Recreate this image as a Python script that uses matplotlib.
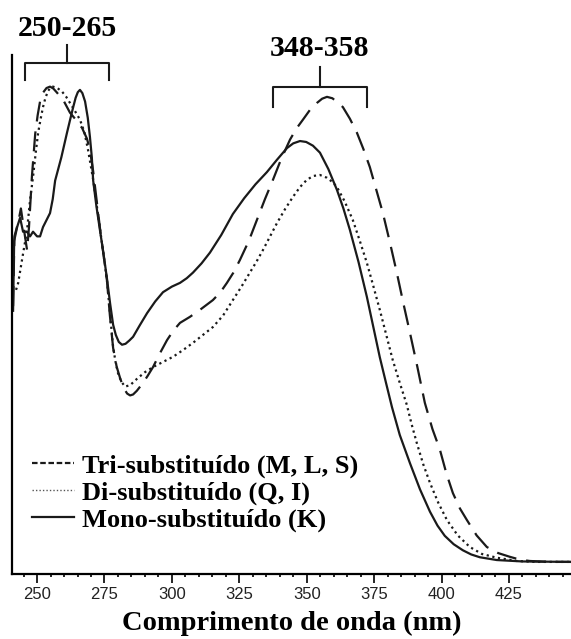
import numpy as np
import matplotlib.pyplot as plt
from matplotlib.lines import Line2D
from matplotlib.ticker import MultipleLocator

# espectros UV (absorbância normalizada)
wl_tri = [241.1, 241.6, 243.0, 244.0, 245.0, 246.3, 247.0, 248.1, 249.3, 250.2,
          251.1, 252.2, 253.5, 254.8, 256.0, 257.4, 260.0, 262.2, 264.5, 266.7,
          268.5, 269.6, 270.8, 273.4, 275.9, 277.0, 278.2, 279.5, 280.8, 282.0,
          283.4, 284.5, 285.6, 287.0, 289.3, 291.0, 293.0, 295.5, 298.2, 300.5,
          303.0, 306.7, 310.4, 315.2, 318.0, 320.4, 322.8, 325.2, 328.5, 331.5,
          334.5, 337.5, 340.5, 343.8, 346.2, 348.6, 351.2, 353.8, 355.7, 357.5,
          359.5, 361.5, 363.4, 366.0, 368.6, 371.0, 373.4, 375.8, 378.2, 380.8,
          383.4, 385.8, 388.3, 391.0, 393.8, 396.6, 399.4, 401.8, 404.2, 406.8,
          409.4, 413.0, 416.8, 421.0, 425.3, 429.0, 432.7, 440.0, 447.9]
abs_tri = [0.55, 0.70, 0.73, 0.76, 0.72, 0.67, 0.72, 0.83, 0.92, 0.96,
           0.99, 1.009, 1.019, 1.022, 1.018, 1.009, 0.99, 0.966, 0.95, 0.933,
           0.91, 0.886, 0.84, 0.714, 0.606, 0.53, 0.46, 0.42, 0.395, 0.375,
           0.362, 0.358, 0.360, 0.368, 0.385, 0.40, 0.419, 0.448, 0.477, 0.497,
           0.514, 0.527, 0.542, 0.563, 0.58, 0.600, 0.622, 0.649, 0.69, 0.735,
           0.78, 0.822, 0.866, 0.908, 0.932, 0.951, 0.972, 0.987, 0.996, 1.0,
           0.997, 0.988, 0.978, 0.953, 0.923, 0.888, 0.849, 0.80, 0.751, 0.688,
           0.622, 0.557, 0.492, 0.42, 0.342, 0.286, 0.241, 0.19, 0.148, 0.115,
           0.090, 0.057, 0.032, 0.019, 0.011, 0.005, 0.002, 0.0, 0.0]

wl_di = [242.2, 243.0, 244.4, 246.3, 247.4, 248.5, 249.5, 250.4, 251.3, 252.2,
         253.1, 254.1, 255.0, 255.9, 257.5, 259.3, 260.8, 262.2, 264.0, 265.9,
         267.5, 268.9, 270.8, 273.4, 275.9, 277.1, 278.2, 279.1, 280.0, 281.2,
         282.6, 284.5, 287.1, 290.0, 293.0, 296.7, 300.4, 304.0, 307.8, 311.5,
         315.2, 319.0, 322.6, 325.8, 328.9, 331.4, 333.8, 336.4, 339.0, 342.0,
         344.9, 347.5, 350.1, 352.5, 354.9, 357.5, 359.5, 361.2, 364.0, 367.1,
         369.7, 372.3, 374.7, 377.1, 379.5, 381.9, 384.5, 387.1, 388.9, 390.8,
         393.2, 395.7, 398.8, 402.0, 406.0, 410.5, 415.0, 420.5, 427.9, 435.0,
         447.9]
abs_di = [0.585, 0.600, 0.649, 0.714, 0.778, 0.828, 0.88, 0.923, 0.952, 0.978,
          0.998, 1.013, 1.02, 1.022, 1.019, 1.011, 1.0, 0.987, 0.97, 0.951,
          0.925, 0.886, 0.822, 0.714, 0.606, 0.53, 0.462, 0.43, 0.406, 0.388,
          0.377, 0.38, 0.394, 0.408, 0.419, 0.43, 0.441, 0.455, 0.471, 0.488,
          0.505, 0.53, 0.563, 0.592, 0.622, 0.646, 0.671, 0.70, 0.729, 0.759,
          0.785, 0.806, 0.822, 0.830, 0.832, 0.826, 0.817, 0.806, 0.776, 0.735,
          0.69, 0.643, 0.593, 0.542, 0.488, 0.434, 0.385, 0.338, 0.296, 0.256,
          0.21, 0.170, 0.127, 0.090, 0.057, 0.032, 0.017, 0.009, 0.002, 0.0,
          0.0]

wl_mono = [241.1, 241.5, 242.6, 243.7, 244.8, 246.3, 247.4, 248.5, 250.0, 251.1,
           252.2, 253.5, 254.8, 255.8, 256.7, 259.0, 261.1, 262.3, 263.4, 264.3,
           265.1, 265.9, 266.8, 267.8, 268.8, 269.6, 270.3, 270.8, 272.0, 273.4,
           274.7, 275.9, 277.1, 278.2, 279.2, 280.3, 281.5, 282.8, 284.2, 285.6,
           288.0, 290.8, 293.8, 296.7, 300.0, 303.0, 305.5, 307.8, 311.0, 314.1,
           318.3, 322.6, 326.8, 331.0, 335.2, 339.0, 342.7, 345.0, 347.5, 349.8,
           352.3, 354.9, 358.0, 361.2, 363.6, 366.0, 369.2, 372.3, 374.7, 377.1,
           379.4, 381.6, 384.5, 388.3, 392.0, 395.7, 398.5, 401.2, 404.5, 407.9,
           411.0, 414.2, 420.5, 430.0, 447.9]
abs_mono = [0.54, 0.69, 0.72, 0.74, 0.71, 0.71, 0.70, 0.71, 0.70, 0.70,
            0.72, 0.735, 0.75, 0.78, 0.82, 0.87, 0.923, 0.952, 0.978, 0.998,
            1.01, 1.015, 1.008, 0.99, 0.955, 0.914, 0.87, 0.82, 0.765, 0.71,
            0.66, 0.61, 0.555, 0.51, 0.488, 0.473, 0.467, 0.469, 0.476, 0.484,
            0.508, 0.535, 0.56, 0.58, 0.592, 0.60, 0.61, 0.622, 0.642, 0.665,
            0.703, 0.748, 0.782, 0.812, 0.838, 0.865, 0.89, 0.90, 0.905, 0.903,
            0.895, 0.88, 0.845, 0.80, 0.76, 0.714, 0.645, 0.57, 0.505, 0.44,
            0.385, 0.333, 0.273, 0.212, 0.156, 0.108, 0.078, 0.056, 0.038, 0.025,
            0.016, 0.01, 0.004, 0.001, 0.0]

labels = ['Tri-substituído (M, L, S)', 'Di-substituído (Q, I)', 'Mono-substituído (K)']
ranges = ['250-265', '348-358']
xticks = [250, 275, 300, 325, 350, 375, 400, 425]

serif = 'Liberation Serif'
ink = '#1a1a1a'

fig = plt.figure(figsize=(5.71, 6.39), dpi=100)
ax = fig.add_axes([12 / 571, 1 - 574 / 639, 1 - 12 / 571, (574 - 55) / 639])

ax.plot(wl_tri, abs_tri, color=ink, lw=1.6, ls=(0, (9, 4.5)))
ax.plot(wl_di, abs_di, color=ink, lw=1.6, ls=(0, (1, 1.6)))
ax.plot(wl_mono, abs_mono, color=ink, lw=1.6, ls='-')

ax.set_xlim(240.7, 448)
ax.set_ylim(-0.026, 1.09)

for s in ['top', 'right']:
    ax.spines[s].set_visible(False)
ax.spines['left'].set_linewidth(1.6)
ax.spines['bottom'].set_linewidth(1.6)
ax.set_yticks([])
ax.set_xticks(xticks)
ax.xaxis.set_minor_locator(MultipleLocator(5))
ax.tick_params(axis='x', which='major', length=6.5, width=1.2, direction='out',
               labelsize=12, labelcolor='#222222', pad=3)
ax.tick_params(axis='x', which='minor', length=2.5, width=1.2, direction='out')
for t in ax.get_xticklabels():
    t.set_fontfamily('Liberation Sans')

ax.set_xlabel('Comprimento de onda (nm)', fontfamily=serif, fontweight='bold',
              fontsize=20.5, labelpad=6)

# chaves com as faixas de máximo
def bracket(x0, x1, ylow, yh, ytop, text, ytext):
    xc = (x0 + x1) / 2
    ax.plot([x0, x0, x1, x1], [ylow, yh, yh, ylow], color=ink, lw=1.5,
            clip_on=False, solid_joinstyle='round')
    ax.plot([xc, xc], [yh, ytop], color=ink, lw=1.5, clip_on=False)
    ax.text(xc, ytext, text, ha='center', va='center', fontfamily=serif,
            fontweight='bold', fontsize=21.5, clip_on=False)

bracket(245.6, 276.7, 1.037, 1.073, 1.112, ranges[0], 1.147)
bracket(337.5, 372.3, 0.978, 1.022, 1.065, ranges[1], 1.105)

handles = [Line2D([], [], color=ink, lw=1.6, ls=(0, (2.5, 1.2))),
           Line2D([], [], color='#555555', lw=1.0, ls=(0, (1, 1.5))),
           Line2D([], [], color=ink, lw=1.6, ls='-')]
ax.legend(handles, labels, loc='upper left', bbox_to_anchor=(32 / 571, 1 - 454 / 639),
          bbox_transform=fig.transFigure, frameon=False, borderpad=0, borderaxespad=0,
          handlelength=1.6, handletextpad=0.3, labelspacing=0.12,
          prop={'family': serif, 'weight': 'bold', 'size': 19})

fig.savefig('out.png', dpi=100)
